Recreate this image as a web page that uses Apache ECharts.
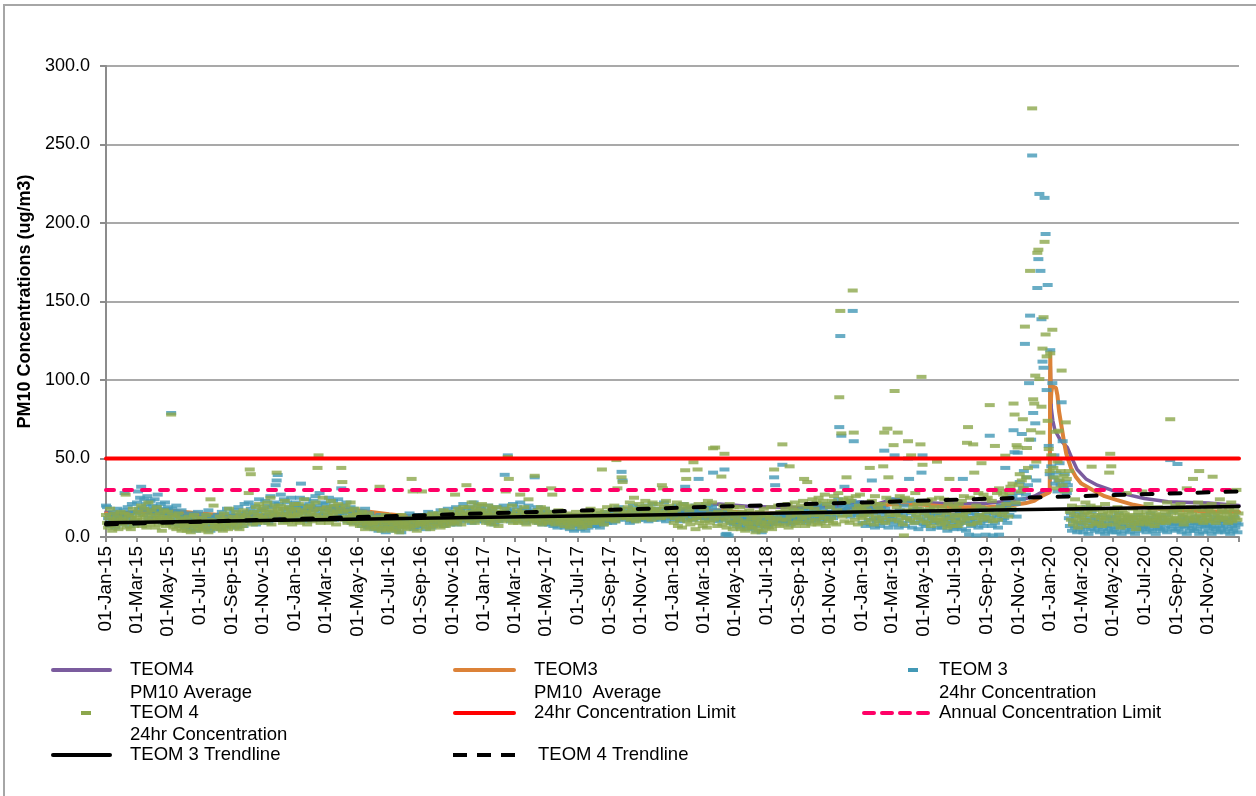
<!DOCTYPE html>
<html>
<head>
<meta charset="utf-8">
<title>PM10 Concentrations</title>
<script src="https://cdn.jsdelivr.net/npm/echarts@6/dist/echarts.min.js"></script>
<style>
  html, body { margin: 0; padding: 0; background: #fff; }
  #chart { width: 1256px; height: 796px; }
</style>
</head>
<body>
<div id="chart"></div>
<script>
// ---- data -------------------------------------------------------------
// 24hr PM10 concentrations (ug/m3), one reading every second day from 1 January of each year
const teom3_2015 = [
  20, 19, 12, 9, 14, 7, 11, 16, 10, 6, 13, 18, 9, 12, 15, 8,
  11, 17, 28, 13, 9, 19, 14, 7, 12, 21, 16, 10, 8, 15,
  22, 29, 18, 25, 32, 19, 14, 24, 17, 21, 26, 12, 18, 23, 15, 20,
  17, 24, 13, 19, 27, 16, 11, 21, 18, 9, 14, 22, 17, 12, 19,
  15, 11, 79, 18, 13, 8, 16, 20, 10, 14, 7, 12, 17, 9, 13,
  10, 6, 13, 8, 15, 11, 5, 9, 14, 7, 12, 4, 10, 16, 8,
  7, 12, 9, 5, 14, 10, 6, 11, 17, 8, 4, 13, 9, 6, 12, 10,
  9, 14, 7, 11, 5, 16, 10, 8, 13, 6, 18, 11, 9, 15, 7,
  12, 8, 17, 10, 14, 6, 19, 11, 9, 15, 13, 7, 21, 10, 16,
  14, 22, 11, 18, 9, 15, 12, 20, 8, 16, 13, 24, 10, 17, 12,
  18, 11, 23, 14, 20, 9, 16, 26, 13, 19, 15, 22, 33, 36, 39.5,
  21, 15, 27, 12, 18, 24, 10, 16, 22, 14, 19, 11, 25, 17, 13, 20
];
const teom4_2015 = [
  14, 9, 6, 12, 18, 8, 4, 11, 15, 7, 10, 13, 5, 9, 16, 11,
  8, 12, 15, 27, 6, 10, 14, 9, 5, 13, 18, 7, 11, 9,
  12, 16, 9, 14, 20, 7, 11, 18, 13, 6, 15, 22, 10, 8, 17, 12,
  10, 14, 6, 19, 12, 8, 15, 11, 4, 13, 17, 9, 7, 12, 16,
  11, 8, 78, 14, 6, 10, 13, 5, 9, 15, 7, 12, 4, 10, 8,
  6, 11, 4, 9, 13, 7, 3, 10, 8, 14, 5, 9, 12, 6, 10,
  8, 4, 12, 7, 10, 5, 14, 9, 3, 11, 24, 6, 10, 20, 7, 9,
  5, 10, 8, 13, 6, 11, 4, 15, 9, 7, 12, 5, 18, 8, 10,
  9, 13, 6, 11, 16, 8, 12, 5, 14, 10, 7, 17, 9, 13, 11,
  15, 28, 43, 40, 12, 8, 16, 11, 19, 9, 14, 21, 10, 13, 17,
  12, 19, 9, 16, 22, 11, 14, 25, 8, 17, 13, 20, 15, 41, 18,
  16, 11, 20, 14, 9, 18, 23, 12, 15, 10, 19, 13, 17, 8, 14, 21
];
const teom3_2016 = [
  16, 22, 13, 19, 11, 25, 34, 15, 20, 12, 18, 24, 10, 17, 21, 14,
  19, 13, 23, 17, 26, 12, 20, 15, 28, 11, 18, 22, 14, 16,
  21, 14, 18, 25, 12, 19, 16, 23, 11, 17, 20, 13, 24, 15, 18, 31,
  15, 20, 12, 17, 22, 10, 16, 13, 19, 9, 14, 18, 11, 15, 12,
  13, 9, 16, 11, 7, 14, 10, 18, 8, 12, 6, 15, 9, 11, 7,
  10, 5, 13, 8, 11, 4, 9, 14, 6, 10, 7, 12, 3, 9, 8,
  7, 11, 5, 9, 13, 6, 10, 4, 8, 12, 6, 9, 3, 11, 7, 10,
  8, 12, 6, 10, 15, 7, 9, 13, 5, 11, 8, 14, 6, 10, 9,
  11, 7, 14, 9, 12, 5, 10, 16, 8, 13, 6, 11, 15, 9, 12,
  10, 14, 8, 12, 17, 9, 13, 7, 11, 15, 10, 18, 12, 8, 14,
  13, 9, 16, 11, 19, 8, 14, 12, 17, 10, 15, 21, 11, 13, 18,
  15, 11, 19, 13, 9, 17, 22, 12, 16, 10, 14, 20, 13, 18, 11, 15
];
const teom4_2016 = [
  13, 18, 10, 15, 21, 9, 14, 17, 11, 24, 12, 16, 8, 19, 13, 20,
  15, 10, 17, 12, 22, 14, 44, 52, 18, 9, 13, 25, 11, 16,
  12, 19, 14, 9, 17, 23, 11, 15, 20, 13, 8, 16, 21, 12, 18, 44,
  35, 16, 11, 20, 13, 9, 17, 12, 22, 10, 14, 8, 18, 11, 15,
  10, 14, 7, 12, 16, 9, 11, 5, 13, 8, 15, 10, 6, 12, 9,
  8, 11, 5, 9, 13, 6, 32, 10, 4, 12, 7, 9, 14, 5, 10,
  6, 10, 13, 4, 9, 7, 12, 5, 11, 8, 3, 10, 14, 6, 9, 7,
  9, 5, 12, 8, 11, 6, 37, 29, 10, 7, 13, 4, 9, 12, 8,
  10, 29, 13, 8, 11, 6, 14, 9, 12, 5, 10, 15, 7, 11, 13,
  12, 8, 15, 10, 6, 13, 9, 17, 11, 7, 14, 10, 16, 12, 8,
  11, 15, 9, 27, 14, 10, 18, 12, 16, 8, 13, 19, 11, 15, 33,
  14, 19, 10, 16, 22, 12, 15, 9, 18, 13, 20, 11, 17, 14, 21, 12
];
const teom3_2017 = [
  14, 10, 17, 12, 20, 9, 15, 11, 18, 13, 8, 16, 12, 19, 10, 14,
  11, 16, 13, 20, 39.6, 14, 18, 52, 12, 17, 10, 15, 21, 13,
  16, 12, 19, 10, 14, 22, 13, 17, 11, 15, 9, 18, 12, 20, 14, 11,
  13, 17, 10, 38, 15, 12, 19, 9, 14, 11, 16, 8, 13, 18, 10,
  11, 15, 8, 13, 10, 16, 7, 12, 9, 14, 6, 11, 13, 8, 10,
  9, 12, 6, 10, 14, 7, 11, 5, 9, 13, 8, 4, 10, 12, 7,
  8, 11, 5, 9, 13, 7, 10, 4, 12, 8, 6, 11, 9, 14, 7, 10,
  10, 7, 13, 9, 12, 6, 15, 11, 8, 14, 10, 16, 9, 12, 11,
  12, 15, 9, 13, 17, 10, 14, 11, 19, 13, 16, 41.5, 36, 12, 15,
  14, 11, 18, 13, 9, 16, 12, 20, 10, 15, 13, 17, 11, 14, 19,
  13, 17, 11, 15, 20, 12, 16, 10, 14, 18, 13, 21, 11, 16, 14,
  15, 12, 18, 14, 11, 17, 13, 22, 15, 10, 16, 19, 12, 14, 17, 13
];
const teom4_2017 = [
  13, 17, 9, 15, 20, 11, 14, 8, 18, 12, 16, 10, 19, 13, 7, 15,
  12, 16, 10, 14, 18, 29, 13, 51, 37, 11, 15, 20, 9, 14,
  14, 11, 17, 9, 13, 27, 12, 16, 10, 19, 14, 8, 15, 24, 11, 13,
  12, 16, 10, 39, 14, 9, 17, 13, 11, 19, 8, 15, 12, 18, 10,
  14, 9, 12, 16, 31, 27, 11, 15, 8, 13, 10, 17, 12, 9, 14,
  10, 13, 7, 11, 15, 9, 12, 6, 14, 10, 8, 13, 11, 16, 9,
  11, 8, 14, 10, 6, 13, 9, 16, 12, 7, 15, 10, 18, 11, 9, 13,
  12, 9, 15, 11, 17, 10, 14, 43, 13, 8, 16, 12, 19, 11, 14,
  14, 11, 17, 13, 20, 10, 49, 31, 16, 12, 18, 38, 35, 15, 13,
  16, 12, 19, 14, 22, 11, 17, 13, 25, 15, 10, 18, 14, 21, 12,
  15, 19, 13, 17, 23, 12, 16, 20, 14, 18, 11, 22, 15, 17, 13,
  18, 14, 21, 16, 12, 33, 31, 19, 15, 23, 13, 17, 20, 14, 18, 16
];
const teom3_2018 = [
  13, 17, 11, 15, 20, 12, 16, 10, 18, 14, 21, 13, 32, 15, 11, 17,
  14, 19, 12, 16, 11, 15, 20, 13, 17, 37, 12, 18, 14, 16,
  15, 12, 18, 14, 20, 11, 16, 13, 19, 41, 15, 12, 17, 14, 10, 16,
  13, 11, 16, 12, 43, 1.5, 2, 14, 1, 10, 15, 9, 13, 8, 12,
  10, 14, 8, 12, 6, 11, 15, 9, 13, 7, 10, 5, 12, 8, 11,
  9, 6, 12, 8, 11, 4, 10, 13, 7, 9, 3, 11, 8, 12, 6,
  10, 7, 13, 9, 12, 8, 14, 38, 33, 11, 9, 12, 10, 15, 13, 46,
  11, 14, 9, 13, 16, 10, 12, 8, 15, 11, 17, 9, 13, 12, 10,
  12, 16, 10, 14, 18, 11, 15, 9, 13, 17, 12, 19, 10, 14, 16,
  14, 11, 17, 13, 20, 12, 15, 10, 18, 14, 21, 13, 16, 11, 15,
  16, 13, 19, 12, 22, 15, 18, 14, 24, 70, 128, 64.5, 17, 20, 32,
  18, 14, 21, 16, 19, 13, 23, 144, 61, 15, 17, 20, 14, 22, 16, 19
];
const teom4_2018 = [
  15, 9, 12, 17, 22, 7, 18, 11, 20, 6, 13, 21, 42.5, 37, 10, 19,
  17, 8, 20, 11, 47.6, 14, 5, 12, 43, 21, 9, 19, 13, 7,
  18, 10, 21, 6, 23, 13, 9, 15, 22, 56.5, 11, 57, 14, 7, 16, 12,
  15, 38.5, 8, 20, 53, 11, 6, 18, 13, 21, 9, 16, 5, 19, 10,
  13, 7, 11, 15, 19, 5, 16, 9, 14, 4, 10, 15, 8, 17, 6,
  12, 6, 9, 14, 3, 11, 13, 5, 16, 8, 10, 4, 18, 7, 13,
  9, 14, 6, 12, 19, 5, 10, 43, 15, 8, 12, 20, 7, 16, 11, 59,
  16, 8, 18, 11, 21, 6, 45, 13, 19, 9, 17, 22, 7, 14, 10,
  17, 9, 20, 12, 23, 37, 7, 13, 35, 19, 10, 21, 8, 24, 14,
  18, 11, 22, 8, 25, 14, 9, 16, 23, 12, 27, 7, 21, 15, 10,
  19, 12, 23, 9, 26, 15, 8, 17, 28, 89, 144, 66, 13, 24, 10,
  22, 38, 14, 25, 9, 23, 16, 157, 66.5, 11, 26, 18, 8, 20, 27, 13
];
const teom3_2019 = [
  16, 9, 14, 18, 7, 15, 19, 11, 21, 8, 36, 15, 12, 6, 18, 10,
  17, 12, 7, 19, 14, 9, 55, 18, 11, 16, 6, 13, 24, 10,
  13, 8, 52, 22, 11, 15, 6, 17, 24, 9, 14, 20, 7, 23, 12, 50,
  37, 10, 15, 6, 17, 23, 9, 13, 18, 5, 16, 11, 41, 52, 8,
  15, 7, 13, 17, 10, 14, 5, 12, 16, 9, 15, 11, 6, 14, 10,
  9, 14, 6, 11, 16, 8, 12, 4, 10, 13, 7, 14, 9, 5, 12,
  11, 6, 14, 8, 16, 10, 5, 37, 13, 9, 4, 12, 15, 1.5, 10, 7,
  12, 8, 15, 10, 1, 14, 6, 17, 9, 13, 18, 7, 11, 1.5, 14,
  10, 16, 64.5, 12, 7, 1, 15, 9, 18, 13, 6, 1.5, 14, 20, 11,
  16, 12, 44, 19, 9, 22, 14, 25, 17, 26, 68, 54, 21, 13, 53.7,
  28, 35, 24, 65.6, 31, 42, 123, 27, 38, 33, 98, 141, 62, 243, 79,
  45, 72.4, 36, 158.6, 177, 218.5, 169.5, 138.7, 111.7, 107.8, 216, 193, 93.6, 160.5, 58, 40
];
const teom4_2019 = [
  18, 12, 15, 20, 9, 17, 21, 14, 44, 11, 23, 16, 8, 26, 13, 21,
  19, 10, 17, 21, 12, 45, 66.5, 9, 25, 69, 38, 14, 23, 11,
  22, 58.5, 93, 14, 19, 66.5, 10, 26, 13, 23, 8, 1, 25, 12, 17, 61,
  24, 11, 52, 16, 19, 9, 28, 14, 21, 12, 18, 59, 102, 46, 10,
  15, 21, 9, 23, 13, 18, 7, 24, 12, 19, 10, 16, 48, 11, 25,
  13, 8, 19, 11, 24, 9, 15, 6, 21, 37, 12, 17, 7, 20, 14,
  10, 18, 7, 21, 13, 9, 23, 14, 26, 11, 16, 60, 70, 12, 25, 8,
  17, 59, 41, 12, 20, 9, 28, 14, 19, 47, 11, 27, 13, 24, 16,
  25, 12, 84, 18, 23, 10, 30, 58, 15, 28, 11, 31, 19, 29, 14,
  27, 16, 51.8, 21, 25, 13, 28, 32, 18, 34, 85, 78, 22, 58.5, 57,
  33, 40, 29, 36, 75, 31, 134, 38, 56.7, 44, 62, 169.5, 68, 273, 87.7,
  85, 102.8, 48, 181, 183, 100.6, 66.5, 83, 120, 140, 188, 129, 115, 74, 56, 42
];
const teom3_2020 = [
  119, 45, 98, 38, 52, 34, 41, 29, 36, 47, 33, 85.8, 61, 31, 40, 35,
  28, 33, 12, 7, 15, 4, 10, 18, 6, 13, 3, 9, 16, 5,
  8, 14, 3, 11, 6, 19, 9, 2, 12, 5, 16, 7, 10, 4, 13, 8,
  6, 11, 3, 9, 14, 5, 8, 2, 12, 7, 4, 10, 6, 13, 3,
  9, 5, 12, 3, 8, 15, 6, 10, 2, 7, 11, 4, 9, 6, 13,
  7, 3, 10, 5, 12, 8, 2, 9, 6, 14, 4, 8, 11, 5, 7,
  10, 6, 3, 12, 8, 5, 15, 9, 4, 11, 7, 2, 13, 6, 9, 5,
  8, 12, 4, 10, 6, 14, 3, 9, 11, 49, 7, 5, 16, 8, 4,
  9, 46.5, 5, 11, 7, 3, 13, 8, 6, 10, 2, 12, 7, 4, 9,
  6, 11, 4, 9, 13, 5, 8, 2, 10, 7, 12, 3, 9, 6, 14,
  8, 4, 11, 7, 2, 10, 6, 13, 5, 9, 3, 12, 7, 4, 10,
  6, 10, 3, 8, 12, 5, 9, 2, 11, 7, 4, 13, 6, 9, 3, 8
];
const teom4_2020 = [
  117, 52, 132, 44, 38, 67, 31, 48, 67.7, 36, 42, 106, 33, 39, 29, 73,
  37, 30, 42, 16, 11, 20, 8, 14, 24, 10, 17, 6, 13, 19,
  12, 18, 9, 15, 22, 11, 16, 7, 14, 20, 44.8, 10, 17, 13, 8, 19,
  14, 9, 18, 12, 7, 16, 11, 21, 13, 8, 15, 41, 53, 45, 17,
  11, 16, 8, 13, 19, 10, 14, 6, 12, 17, 9, 15, 11, 28, 13,
  10, 14, 7, 12, 18, 9, 13, 5, 11, 16, 8, 14, 10, 29, 12,
  13, 9, 16, 11, 21, 8, 14, 10, 17, 12, 7, 15, 11, 19, 13, 9,
  14, 10, 18, 12, 16, 9, 22, 13, 11, 75, 15, 10, 17, 12, 20,
  12, 17, 10, 15, 21, 11, 14, 8, 18, 13, 31, 10, 16, 12, 19,
  15, 37, 11, 13, 18, 10, 22, 42, 14, 12, 17, 9, 20, 14, 11,
  13, 18, 10, 16, 21, 38.4, 12, 15, 9, 19, 14, 11, 24, 13, 17,
  12, 16, 20, 11, 15, 9, 18, 13, 22, 10, 14, 17, 12, 30, 11, 15
];
const years = [2015, 2016, 2017, 2018, 2019, 2020];
const teom3ByYear = [teom3_2015, teom3_2016, teom3_2017, teom3_2018, teom3_2019, teom3_2020];
const teom4ByYear = [teom4_2015, teom4_2016, teom4_2017, teom4_2018, teom4_2019, teom4_2020];

// year-to-date PM10 averages (ug/m3)
const teom4Average = [
  ['2015-01-01', 16], ['2015-01-15', 15], ['2015-02-01', 15.5], ['2015-03-01', 16], ['2015-04-01', 15.5],
  ['2015-06-01', 14], ['2015-08-01', 13], ['2015-10-01', 12.5], ['2015-12-31', 13],
  ['2016-01-01', 15], ['2016-01-15', 16], ['2016-02-01', 17], ['2016-03-01', 18], ['2016-04-01', 17],
  ['2016-06-01', 15], ['2016-08-01', 13.5], ['2016-10-01', 13], ['2016-12-31', 13.5],
  ['2017-01-01', 14], ['2017-02-01', 14], ['2017-03-01', 16], ['2017-05-01', 15], ['2017-07-01', 14],
  ['2017-09-01', 13.5], ['2017-11-01', 14], ['2017-12-31', 14.5],
  ['2018-01-01', 15], ['2018-02-01', 19], ['2018-03-01', 20], ['2018-04-01', 21], ['2018-06-01', 19.5],
  ['2018-08-01', 19], ['2018-10-01', 19], ['2018-11-15', 19.5], ['2018-12-01', 21], ['2018-12-31', 22.5],
  ['2019-01-01', 18], ['2019-01-15', 20], ['2019-02-01', 21], ['2019-03-01', 24], ['2019-05-01', 22],
  ['2019-07-01', 21], ['2019-09-01', 21.5], ['2019-10-15', 23], ['2019-11-15', 24.5], ['2019-12-01', 26],
  ['2019-12-15', 28.5], ['2019-12-31', 30],
  ['2020-01-01', 110], ['2020-01-03', 82], ['2020-01-06', 74], ['2020-01-10', 68], ['2020-01-20', 62],
  ['2020-02-03', 57], ['2020-02-12', 50], ['2020-02-22', 43], ['2020-03-10', 37], ['2020-04-01', 33],
  ['2020-05-01', 29.5], ['2020-05-29', 27], ['2020-07-01', 24.5], ['2020-08-16', 22.5], ['2020-09-30', 22],
  ['2020-11-02', 21.6], ['2020-12-31', 20]
];
const teom3Average = [
  ['2015-01-01', 15], ['2015-02-01', 14], ['2015-03-01', 16], ['2015-04-01', 17], ['2015-05-01', 17],
  ['2015-07-01', 15], ['2015-09-01', 13.5], ['2015-11-01', 13.5], ['2015-12-31', 15],
  ['2016-01-01', 16], ['2016-02-01', 18], ['2016-03-01', 18.5], ['2016-05-01', 17], ['2016-07-01', 14.5],
  ['2016-09-01', 12.5], ['2016-11-01', 12], ['2016-12-31', 12.5],
  ['2017-01-01', 13], ['2017-02-01', 13.4], ['2017-03-01', 16], ['2017-05-01', 15], ['2017-07-01', 13],
  ['2017-09-01', 12.5], ['2017-11-01', 13], ['2017-12-31', 13.5],
  ['2018-01-01', 14], ['2018-02-01', 16], ['2018-04-01', 17], ['2018-06-01', 15], ['2018-08-01', 15],
  ['2018-10-01', 15.5], ['2018-11-20', 16], ['2018-12-01', 18], ['2018-12-31', 20],
  ['2019-01-01', 17], ['2019-02-01', 19], ['2019-03-01', 21], ['2019-05-01', 20.5], ['2019-07-01', 19],
  ['2019-09-01', 19], ['2019-10-15', 20], ['2019-11-15', 21.6], ['2019-12-01', 23], ['2019-12-15', 26],
  ['2019-12-31', 28.5],
  ['2020-01-01', 119], ['2020-01-02', 85], ['2020-01-03', 92], ['2020-01-05', 96], ['2020-01-08', 97],
  ['2020-01-12', 95], ['2020-01-15', 90], ['2020-01-18', 80], ['2020-01-23', 70], ['2020-01-28', 60],
  ['2020-02-01', 53], ['2020-02-10', 44], ['2020-02-20', 38], ['2020-03-01', 34], ['2020-03-23', 30],
  ['2020-04-15', 26], ['2020-05-08', 23.6], ['2020-06-10', 20.5], ['2020-07-11', 18.5], ['2020-08-15', 17.5],
  ['2020-09-15', 17], ['2020-10-15', 16.5], ['2020-11-15', 16.3], ['2020-12-31', 16]
];

// linear trendlines (start and end of the record)
const teom3Trend = [['2015-01-01', 9], ['2020-12-31', 19.5]];
const teom4Trend = [['2015-01-01', 8], ['2020-12-31', 29]];

// concentration limits (ug/m3)
const dailyLimit = 50;
const annualLimit = 30;

// value axis
const yMin = 0, yMax = 300, yStep = 50;
const monthNames = ['Jan', 'Feb', 'Mar', 'Apr', 'May', 'Jun', 'Jul', 'Aug', 'Sep', 'Oct', 'Nov', 'Dec'];
const firstDay = '2015-01-01', lastDay = '2020-12-31';

// ---- build the daily category axis and map readings onto it ------------
const DAY_MS = 86400000;
const iso = t => new Date(t).toISOString().slice(0, 10);
const days = [];
for (let t = Date.parse(firstDay); t <= Date.parse(lastDay); t += DAY_MS) days.push(iso(t));
const dayIndex = new Map(days.map((d, i) => [d, i]));

const everySecondDay = (year, values) =>
  values.map((v, i) => [dayIndex.get(iso(Date.UTC(year, 0, 1 + 2 * i))), v]);
const atDates = pairs => pairs.map(([d, v]) => [dayIndex.get(d), v]);
const span = v => [[0, v], [days.length - 1, v]];

const teom3Points = years.flatMap((y, k) => everySecondDay(y, teom3ByYear[k]));
const teom4Points = years.flatMap((y, k) => everySecondDay(y, teom4ByYear[k]));

const isLabelDay = d => d.slice(8) === '01' && (+d.slice(5, 7)) % 2 === 1;
const dayLabel = d => '01-' + monthNames[+d.slice(5, 7) - 1] + '-' + d.slice(2, 4);

// ---- styling -----------------------------------------------------------
const FONT = '"Liberation Sans", Arial, sans-serif';
const C = {
  teom4Avg: '#7B5C9E',
  teom3Avg: '#DC8238',
  teom3: '#4399B6',
  teom4: '#8CA74C',
  daily: '#FF0000',
  annual: '#FF0066',
  axis: '#8C8C8C'
};

const lineSeries = (name, data, color, width, type, z) => ({
  name, type: 'line', data, symbol: 'none', silent: true, z,
  lineStyle: { color, width, type: type || 'solid', cap: 'round' }
});
const dashSeries = (name, data, color, z) => ({
  name, type: 'scatter', data, symbol: 'rect', symbolSize: [10, 4], silent: true, z,
  itemStyle: { color }
});

// legend, three columns in the lower part of the chart
const LEGEND_FONT = '18.5px ' + FONT;
const legendText = (x, y, text) => ({
  type: 'text', x, y, silent: true,
  style: { text, fill: '#000', font: LEGEND_FONT, verticalAlign: 'middle' }
});
const legendLine = (x1, x2, y, stroke, lineWidth, lineDash, lineCap) => ({
  type: 'line', silent: true,
  shape: { x1, y1: y, x2, y2: y },
  style: { stroke, lineWidth, lineDash: lineDash || null, lineCap: lineCap || 'round' }
});
const legendDash = (cx, cy, fill) => ({
  type: 'rect', silent: true,
  shape: { x: cx - 5, y: cy - 2, width: 10, height: 4 },
  style: { fill }
});

const graphic = [
  { type: 'rect', silent: true, z: -10, shape: { x: 4, y: 5, width: 1400, height: 1000 },
    style: { fill: null, stroke: '#A6A6A6', lineWidth: 2 } },
  legendLine(53, 110, 670, C.teom4Avg, 4),
  legendText(130, 670, 'TEOM4'),
  legendText(130, 693, 'PM10 Average'),
  legendDash(86, 713, C.teom4),
  legendText(130, 713, 'TEOM 4'),
  legendText(130, 735, '24hr Concentration'),
  legendLine(53, 110, 755, '#000', 4),
  legendText(130, 755, 'TEOM 3 Trendline'),
  legendLine(455, 514, 670, C.teom3Avg, 4),
  legendText(534, 670, 'TEOM3'),
  legendText(534, 693, 'PM10  Average'),
  legendLine(455, 514, 713, C.daily, 4),
  legendText(534, 713, '24hr Concentration Limit'),
  legendLine(453, 515, 755, '#000', 4, [14, 10], 'butt'),
  legendText(538, 755, 'TEOM 4 Trendline'),
  legendDash(913, 670, C.teom3),
  legendText(939, 670, 'TEOM 3'),
  legendText(939, 693, '24hr Concentration'),
  legendLine(864, 933, 713, C.annual, 4, [10, 8]),
  legendText(939, 713, 'Annual Concentration Limit')
];

const chart = echarts.init(document.getElementById('chart'), null, { renderer: 'canvas' });
chart.setOption({
  animation: false,
  backgroundColor: '#fff',
  textStyle: { fontFamily: FONT },
  grid: { left: 106, right: 17, top: 66, bottom: 259, containLabel: false, outerBoundsMode: 'none' },
  xAxis: {
    type: 'category',
    data: days,
    boundaryGap: false,
    axisLine: { lineStyle: { color: C.axis, width: 2 } },
    axisTick: {
      length: 5,
      lineStyle: { color: C.axis, width: 2 },
      interval: (i, d) => isLabelDay(d) || i === days.length - 1
    },
    axisLabel: {
      interval: (i, d) => isLabelDay(d),
      formatter: dayLabel,
      rotate: 90,
      margin: 9,
      color: '#000',
      fontSize: 19,
      fontFamily: FONT
    },
    splitLine: { show: false }
  },
  yAxis: {
    type: 'value',
    min: yMin, max: yMax, interval: yStep,
    name: 'PM10 Concentrations (ug/m3)',
    nameLocation: 'middle',
    nameRotate: 90,
    nameGap: 72,
    nameTextStyle: { fontSize: 18, fontWeight: 'bold', color: '#000', fontFamily: FONT },
    axisLine: { show: true, lineStyle: { color: C.axis, width: 2 } },
    axisTick: { show: true, length: 6, lineStyle: { color: C.axis, width: 2 } },
    axisLabel: {
      formatter: v => v.toFixed(1),
      margin: 16,
      color: '#000',
      fontSize: 18,
      fontFamily: FONT
    },
    splitLine: { lineStyle: { color: C.axis, width: 1.5 } }
  },
  series: [
    lineSeries('TEOM4 PM10 Average', atDates(teom4Average), C.teom4Avg, 3.5, 'solid', 1),
    lineSeries('TEOM3 PM10 Average', atDates(teom3Average), C.teom3Avg, 4, 'solid', 2),
    dashSeries('TEOM 3 24hr Concentration', teom3Points, C.teom3, 3),
    dashSeries('TEOM 4 24hr Concentration', teom4Points, C.teom4, 4),
    lineSeries('24hr Concentration Limit', span(dailyLimit), C.daily, 4, 'solid', 5),
    lineSeries('Annual Concentration Limit', span(annualLimit), C.annual, 4, [8, 10], 6),
    lineSeries('TEOM 3 Trendline', atDates(teom3Trend), '#000', 3.5, 'solid', 7),
    lineSeries('TEOM 4 Trendline', atDates(teom4Trend), '#000', 4, [11, 17], 8)
  ],
  graphic
});
</script>
</body>
</html>
